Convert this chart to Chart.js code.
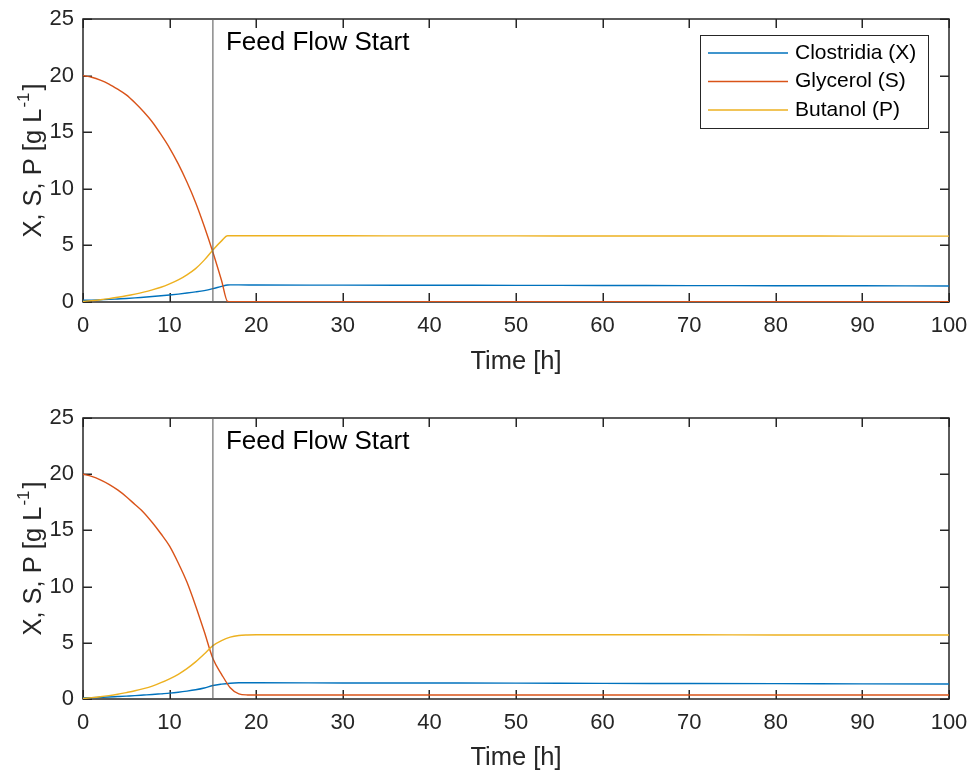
<!DOCTYPE html>
<html><head><meta charset="utf-8">
<script src="https://cdn.jsdelivr.net/npm/chart.js@4.4.1/dist/chart.umd.min.js"></script>
<style>
html,body{margin:0;padding:0;background:#fff;}
#wrap{position:relative;width:972px;height:772px;overflow:hidden;}
.box{position:absolute;left:0;width:972px;height:386px;}
</style></head><body>
<div id="wrap">
<div class="box" style="top:0"><canvas id="c1"></canvas></div>
<div class="box" style="top:386px"><canvas id="c2"></canvas></div>
</div>
<script>
// ---------- data ----------
const seriesLabels = ['Clostridia (X)', 'Glycerol (S)', 'Butanol (P)'];
const xTicks = [0, 10, 20, 30, 40, 50, 60, 70, 80, 90, 100];
const yTicks = [0, 5, 10, 15, 20, 25];
const feedStart = 15;
const annotationText = 'Feed Flow Start';
const xTitle = 'Time [h]';

const timeTop = [0,1,2,3,4,5,6,7,8,9,10,11,12,13,14,15,16,16.7,17,18,20,30,40,50,60,70,80,90,100];
const XTop = [0.15,0.17,0.2,0.23,0.27,0.31,0.36,0.42,0.48,0.55,0.62,0.7,0.79,0.89,1.01,1.18,1.38,1.5,1.51,1.51,1.5,1.49,1.48,1.47,1.46,1.45,1.44,1.43,1.42];
const STop = [20,19.85,19.6,19.25,18.8,18.3,17.6,16.8,15.9,14.8,13.6,12.2,10.6,8.8,6.7,4.4,1.9,0.05,0.03,0.03,0.03,0.03,0.03,0.03,0.03,0.03,0.03,0.03,0.03];
const PTop = [0.05,0.12,0.2,0.3,0.42,0.55,0.7,0.87,1.07,1.3,1.6,1.95,2.4,2.95,3.7,4.6,5.4,5.85,5.85,5.85,5.85,5.85,5.84,5.84,5.83,5.83,5.83,5.82,5.82];

const timeBot = [0,1,2,3,4,5,6,7,8,9,10,11,12,13,14,15,16,17,18,19,20,30,40,50,60,70,80,90,100];
const XBot = [0.1,0.12,0.15,0.18,0.22,0.26,0.3,0.35,0.4,0.46,0.52,0.6,0.7,0.82,0.98,1.2,1.32,1.4,1.44,1.45,1.45,1.43,1.42,1.41,1.39,1.38,1.37,1.35,1.34];
const SBot = [20,19.8,19.5,19.1,18.6,18.0,17.3,16.6,15.7,14.7,13.6,12.1,10.4,8.3,6.0,3.6,2.2,1.0,0.45,0.36,0.35,0.35,0.35,0.35,0.35,0.35,0.35,0.35,0.35];
const PBot = [0.05,0.12,0.2,0.3,0.42,0.57,0.73,0.92,1.15,1.45,1.8,2.2,2.7,3.3,4.0,4.75,5.2,5.5,5.65,5.7,5.72,5.72,5.72,5.71,5.71,5.71,5.7,5.7,5.7];

// ---------- styling ----------
const colors = ['#0072BD', '#D95319', '#EDB120'];
const FONT = '"Liberation Sans", Arial, Helvetica, sans-serif';
const AX = '#262626';

function pts(t, v) { return t.map((x, i) => ({ x: x, y: v[i] })); }

const framePlugin = {
  id: 'matlabFrame',
  beforeDatasetsDraw(chart) {
    const { ctx, chartArea: a, scales: { x, y } } = chart;
    ctx.save();
    ctx.strokeStyle = AX;
    ctx.lineWidth = 1.5;
    ctx.beginPath();
    const tl = 9;
    xTicks.forEach(v => {
      const px = Math.round(x.getPixelForValue(v)) + 0.25;
      ctx.moveTo(px, a.bottom); ctx.lineTo(px, a.bottom - tl);
      ctx.moveTo(px, a.top); ctx.lineTo(px, a.top + tl);
    });
    yTicks.forEach(v => {
      const py = Math.round(y.getPixelForValue(v)) + 0.25;
      ctx.moveTo(a.left, py); ctx.lineTo(a.left + tl, py);
      ctx.moveTo(a.right, py); ctx.lineTo(a.right - tl, py);
    });
    ctx.stroke();
    ctx.strokeRect(a.left, a.top, a.right - a.left, a.bottom - a.top);
    ctx.restore();
  },
  afterDraw(chart, args, opts) {
    const { ctx, chartArea: a, scales: { x } } = chart;
    ctx.save();
    // annotation text
    ctx.fillStyle = '#000';
    ctx.font = '26px ' + FONT;
    ctx.textBaseline = 'middle';
    ctx.textAlign = 'left';
    ctx.fillText(annotationText, x.getPixelForValue(feedStart) + 13, a.top + 24);
    // y title with superscript
    ctx.fillStyle = AX;
    ctx.translate(41, (a.top + a.bottom) / 2);
    ctx.rotate(-Math.PI / 2);
    ctx.textBaseline = 'alphabetic';
    const m1 = 'X, S, P [g L', sup = '-1', m2 = ']';
    ctx.font = '25.5px ' + FONT;
    const w1 = ctx.measureText(m1).width, w2 = ctx.measureText(m2).width;
    ctx.font = '17px ' + FONT;
    const ws = ctx.measureText(sup).width;
    const total = w1 + ws + w2 + 3;
    let x0 = -total / 2;
    ctx.font = '25.5px ' + FONT;
    ctx.fillText(m1, x0, 0);
    ctx.font = '17px ' + FONT;
    ctx.fillText(sup, x0 + w1 + 1, -12);
    ctx.font = '25.5px ' + FONT;
    ctx.fillText(m2, x0 + w1 + ws + 3, 0);
    ctx.restore();

    if (opts.legend) {
      ctx.save();
      const bx = a.right - 21 - 228, by = a.top + 16, bw = 228, bh = 93;
      ctx.fillStyle = '#fff';
      ctx.fillRect(bx, by, bw, bh);
      ctx.strokeStyle = AX;
      ctx.lineWidth = 1;
      ctx.strokeRect(bx + 0.5, by + 0.5, bw, bh);
      ctx.font = '21px ' + FONT;
      ctx.textBaseline = 'middle';
      ctx.textAlign = 'left';
      seriesLabels.forEach((lab, i) => {
        const ry = by + 18 + i * 28.5;
        ctx.strokeStyle = colors[i];
        ctx.lineWidth = 1.3;
        ctx.beginPath();
        ctx.moveTo(bx + 8, ry); ctx.lineTo(bx + 88, ry);
        ctx.stroke();
        ctx.fillStyle = '#000';
        ctx.fillText(lab, bx + 95, ry);
      });
      ctx.restore();
    }
  }
};

function makeChart(id, t, X, S, P, opt) {
  const ds = [
    { label: 'feed', data: [{ x: feedStart, y: yTicks[0] }, { x: feedStart, y: yTicks[yTicks.length - 1] }], borderColor: '#606060', borderWidth: 1.1, order: 0 },
    { label: seriesLabels[2], data: pts(t, P), borderColor: colors[2], borderWidth: 1.4, order: 1 },
    { label: seriesLabels[1], data: pts(t, S), borderColor: colors[1], borderWidth: 1.4, order: 2 },
    { label: seriesLabels[0], data: pts(t, X), borderColor: colors[0], borderWidth: 1.4, order: 3 }
  ];
  ds.forEach(d => { d.pointRadius = 0; d.fill = false; d.cubicInterpolationMode = 'monotone'; });
  return new Chart(document.getElementById(id), {
    type: 'line',
    data: { datasets: ds },
    options: {
      responsive: true, maintainAspectRatio: false, animation: false, devicePixelRatio: 1,
      layout: { padding: { left: 0, right: 23, top: opt.top, bottom: 0 } },
      plugins: { legend: { display: false }, tooltip: { enabled: false }, matlabFrame: { legend: opt.legend } },
      scales: {
        x: {
          type: 'linear', min: 0, max: 100,
          afterBuildTicks: s => { s.ticks = xTicks.map(v => ({ value: v })); },
          afterFit: s => { s.height = opt.xh; s.paddingLeft = 0; s.paddingRight = 0; },
          grid: { display: false, drawTicks: false }, border: { display: false },
          ticks: { font: { size: 22, family: FONT }, color: AX, padding: 11, maxRotation: 0, autoSkip: false },
          title: { display: true, text: xTitle, color: AX, font: { size: 25.5, family: FONT, lineHeight: 1 }, padding: { top: 0, bottom: opt.tpb } }
        },
        y: {
          type: 'linear', min: 0, max: 25,
          afterBuildTicks: s => { s.ticks = yTicks.map(v => ({ value: v })); },
          afterFit: s => { s.width = 83; s.paddingTop = 0; s.paddingBottom = 0; },
          grid: { display: false, drawTicks: false }, border: { display: false },
          ticks: { font: { size: 22, family: FONT }, color: AX, padding: 9 }
        }
      }
    },
    plugins: [framePlugin]
  });
}

makeChart('c1', timeTop, XTop, STop, PTop, { top: 19, xh: 84, tpb: 11, legend: true });
makeChart('c2', timeBot, XBot, SBot, PBot, { top: 32, xh: 73, tpb: 1, legend: false });
</script>
</body></html>
